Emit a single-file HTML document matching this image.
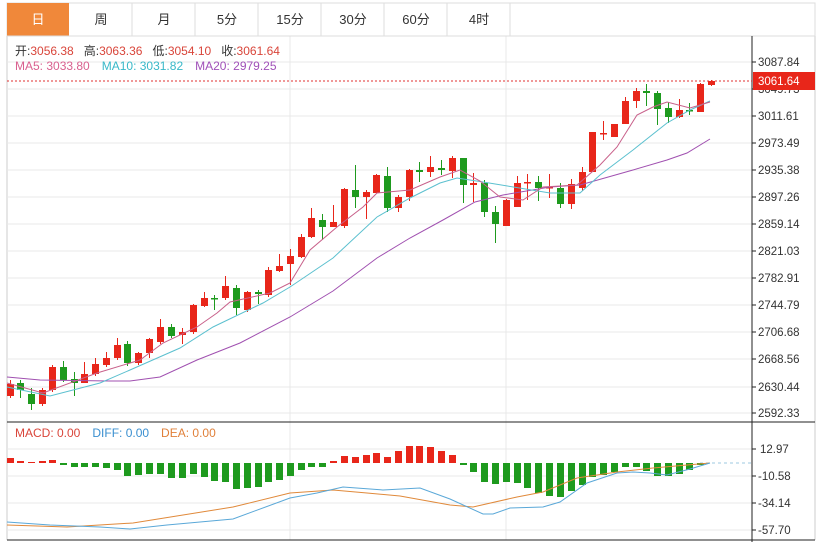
<!DOCTYPE html>
<html><head><meta charset="utf-8"><style>
html,body{margin:0;padding:0;background:#fff;width:821px;height:542px;overflow:hidden}
svg{display:block;font-family:"Liberation Sans","Noto Sans CJK SC",sans-serif}
</style></head><body>
<svg width="821" height="542" viewBox="0 0 821 542" xmlns="http://www.w3.org/2000/svg">
<rect x="7" y="3" width="808" height="33" fill="#fff" stroke="#ddd"/>
<rect x="7" y="3" width="62" height="33" fill="#f0883a"/>
<g stroke="#ddd"><line x1="132" y1="3" x2="132" y2="36"/><line x1="195" y1="3" x2="195" y2="36"/><line x1="258" y1="3" x2="258" y2="36"/><line x1="321" y1="3" x2="321" y2="36"/><line x1="384" y1="3" x2="384" y2="36"/><line x1="447" y1="3" x2="447" y2="36"/><line x1="510" y1="3" x2="510" y2="36"/></g>
<g font-size="13" text-anchor="middle" fill="#333"><text x="38" y="24" fill="#fff">日</text><text x="101" y="24">周</text><text x="164" y="24">月</text><text x="227" y="24">5分</text><text x="290" y="24">15分</text><text x="353" y="24">30分</text><text x="416" y="24">60分</text><text x="479" y="24">4时</text></g>
<g stroke="#ccc" fill="none"><line x1="7" y1="36" x2="7" y2="540"/><line x1="815" y1="36" x2="815" y2="540"/></g>
<g stroke="#e8e8e8"><line x1="7" y1="62" x2="752" y2="62"/><line x1="7" y1="89" x2="752" y2="89"/><line x1="7" y1="116" x2="752" y2="116"/><line x1="7" y1="143" x2="752" y2="143"/><line x1="7" y1="170" x2="752" y2="170"/><line x1="7" y1="197" x2="752" y2="197"/><line x1="7" y1="224" x2="752" y2="224"/><line x1="7" y1="251" x2="752" y2="251"/><line x1="7" y1="278" x2="752" y2="278"/><line x1="7" y1="305" x2="752" y2="305"/><line x1="7" y1="332" x2="752" y2="332"/><line x1="7" y1="359" x2="752" y2="359"/><line x1="7" y1="387" x2="752" y2="387"/><line x1="7" y1="413" x2="752" y2="413"/>
<line x1="7" y1="449" x2="752" y2="449"/><line x1="7" y1="476" x2="752" y2="476"/><line x1="7" y1="503" x2="752" y2="503"/><line x1="7" y1="530" x2="752" y2="530"/>
<line x1="290" y1="36" x2="290" y2="540"/><line x1="506" y1="36" x2="506" y2="540"/></g>
<line x1="7" y1="36" x2="815" y2="36" stroke="#ddd"/>
<line x1="7" y1="422" x2="815" y2="422" stroke="#222"/>
<line x1="7" y1="540" x2="815" y2="540" stroke="#222"/>
<line x1="752" y1="36" x2="752" y2="542" stroke="#222"/>
<g stroke="#222"><line x1="752" y1="62" x2="756" y2="62"/><line x1="752" y1="89" x2="756" y2="89"/><line x1="752" y1="116" x2="756" y2="116"/><line x1="752" y1="143" x2="756" y2="143"/><line x1="752" y1="170" x2="756" y2="170"/><line x1="752" y1="197" x2="756" y2="197"/><line x1="752" y1="224" x2="756" y2="224"/><line x1="752" y1="251" x2="756" y2="251"/><line x1="752" y1="278" x2="756" y2="278"/><line x1="752" y1="305" x2="756" y2="305"/><line x1="752" y1="332" x2="756" y2="332"/><line x1="752" y1="359" x2="756" y2="359"/><line x1="752" y1="387" x2="756" y2="387"/><line x1="752" y1="413" x2="756" y2="413"/><line x1="752" y1="449" x2="756" y2="449"/><line x1="752" y1="476" x2="756" y2="476"/><line x1="752" y1="503" x2="756" y2="503"/><line x1="752" y1="530" x2="756" y2="530"/></g>
<g font-size="11.5" fill="#333"><text x="758" y="66">3087.84</text><text x="758" y="93">3049.73</text><text x="758" y="120">3011.61</text><text x="758" y="147">2973.49</text><text x="758" y="174">2935.38</text><text x="758" y="201">2897.26</text><text x="758" y="228">2859.14</text><text x="758" y="255">2821.03</text><text x="758" y="282">2782.91</text><text x="758" y="309">2744.79</text><text x="758" y="336">2706.68</text><text x="758" y="363">2668.56</text><text x="758" y="391">2630.44</text><text x="758" y="417">2592.33</text>
<text x="760" y="453">12.97</text><text x="758" y="480">-10.58</text><text x="758" y="507">-34.14</text><text x="758" y="534">-57.70</text></g>
<line x1="7" y1="81" x2="752" y2="81" stroke="#e03030" stroke-dasharray="2,2"/>
<rect x="753" y="72" width="62" height="18" fill="#e8261a"/>
<text x="758" y="85" font-size="11.5" fill="#fff">3061.64</text>
<line x1="700" y1="463" x2="752" y2="463" stroke="#9cc8e0" stroke-dasharray="3,3"/>
<g font-size="12"><text x="15" y="55" fill="#333" xml:space="preserve">开:<tspan fill="#d9453a">3056.38</tspan>   高:<tspan fill="#d9453a">3063.36</tspan>   低:<tspan fill="#d9453a">3054.10</tspan>   收:<tspan fill="#d9453a">3061.64</tspan></text>
<text x="15" y="70"><tspan fill="#d9608f">MA5: 3033.80</tspan><tspan fill="#38b8c8" dx="12">MA10: 3031.82</tspan><tspan fill="#a050b8" dx="12">MA20: 2979.25</tspan></text>
<text x="15" y="437"><tspan fill="#d9453a">MACD: 0.00</tspan><tspan fill="#3a8fd0" dx="12">DIFF: 0.00</tspan><tspan fill="#e0803a" dx="12">DEA: 0.00</tspan></text></g>
<path fill="none" stroke="#e8261a" d="M10.5 380V398M42.5 388V406M52.5 365V392M84.5 362V383M95.5 358V376M106.5 352V367M117.5 338V360M138.5 352V365M149.5 338V358M160.5 319V344M182.5 328V344M193.5 304V334M204.5 292V307M225.5 276V300M247.5 291V312M268.5 267V297M279.5 254V272M290.5 249V285M301.5 234V258M311.5 208V238M333.5 205V227M344.5 188V228M366.5 190V219M376.5 174V193M398.5 195V212M409.5 169V201M430.5 156V177M452.5 156V178M473.5 173V202M506.5 199V226M517.5 176V207M527.5 174V200M549.5 174V198M571.5 179V209M582.5 167V191M592.5 132V172M603.5 121V140M614.5 124V137M625.5 97V124M636.5 88V108M679.5 99V118M700.5 83V112M711.5 80V86"/>
<path fill="none" stroke="#1e9a1e" d="M20.5 380V398M31.5 388V410M63.5 361V382M74.5 372V396M127.5 341V366M171.5 324V338M214.5 295V310M236.5 285V315M258.5 290V304M322.5 214V240M355.5 165V208M387.5 167V212M419.5 162V182M441.5 160V175M463.5 158V203M484.5 180V217M495.5 206V243M538.5 176V201M560.5 183V208M646.5 84V106M657.5 91V125M668.5 102V123M689.5 103V115"/>
<path fill="#e8261a" d="M7 384h7v12h-7zM39 390h7v14h-7zM49 367h7v23h-7zM81 374h7v9h-7zM92 364h7v10h-7zM103 358h7v7h-7zM114 345h7v13h-7zM135 353h7v10h-7zM146 339h7v14h-7zM157 327h7v15h-7zM179 332h7v3h-7zM190 305h7v27h-7zM201 298h7v8h-7zM222 286h7v12h-7zM244 292h7v18h-7zM265 270h7v25h-7zM276 266h7v5h-7zM287 256h7v8h-7zM298 237h7v20h-7zM308 218h7v19h-7zM330 222h7v5h-7zM341 189h7v37h-7zM363 192h7v5h-7zM373 175h7v18h-7zM395 197h7v11h-7zM406 170h7v27h-7zM427 167h7v5h-7zM449 158h7v13h-7zM470 183h7v2h-7zM503 200h7v26h-7zM514 183h7v24h-7zM524 182h7v1.5h-7zM546 187h7v1.5h-7zM568 184h7v20h-7zM579 172h7v16h-7zM589 132h7v40h-7zM600 133h7v1.5h-7zM611 124h7v13h-7zM622 101h7v23h-7zM633 91h7v10h-7zM676 110h7v7h-7zM697 84h7v28h-7zM708 81h7v4h-7z"/>
<path fill="#1e9a1e" d="M17 383h7v7h-7zM28 394h7v10h-7zM60 367h7v13h-7zM71 379h7v4h-7zM124 344h7v19h-7zM168 327h7v9h-7zM211 298h7v1.5h-7zM233 288h7v20h-7zM255 292h7v2h-7zM319 220h7v7h-7zM352 190h7v7h-7zM384 176h7v32h-7zM416 170h7v2h-7zM438 168h7v2h-7zM460 158h7v27h-7zM481 183h7v29h-7zM492 212h7v12h-7zM535 182h7v6h-7zM557 188h7v16h-7zM643 91h7v2h-7zM654 93h7v16h-7zM665 108h7v9h-7zM686 110h7v1.5h-7z"/>
<g fill="none" stroke-width="1">
<polyline stroke="#a050b0" points="7,377 40,380 110,381 130,381 160,377 197,360 240,343 290,317 333,291 377,258 410,238 443,220 475,202 503,195 550,187 580,185 633,170 667,160 687,153 710,139"/>
<polyline stroke="#5bc0cf" points="7,387 50,396 100,383 130,370 180,348 213,327 263,303 290,287 333,258 377,217 410,198 440,183 457,178 483,182 550,193 580,193 600,175 633,150 667,123 690,110 710,101"/>
<polyline stroke="#c8608a" points="7,383 43,393 97,373 140,360 163,343 197,327 217,313 230,302 270,293 290,283 310,250 337,227 363,207 377,193 410,190 440,177 460,170 480,181 500,197 523,200 543,187 577,185 600,165 617,147 637,115 653,107 667,102 690,108 710,102"/>
</g>
<path fill="#e8261a" d="M7 458h7v5h-7zM17 461h7v2h-7zM28 462h7v1h-7zM39 461h7v2h-7zM49 460h7v3h-7zM330 461h7v2h-7zM341 456h7v7h-7zM352 457h7v6h-7zM363 455h7v8h-7zM373 453h7v10h-7zM384 457h7v6h-7zM395 451h7v12h-7zM406 446h7v17h-7zM416 446h7v17h-7zM427 447h7v16h-7zM438 451h7v12h-7zM449 455h7v8h-7z"/>
<path fill="#1e9a1e" d="M60 463h7v2h-7zM71 463h7v4h-7zM81 463h7v4h-7zM92 463h7v4h-7zM103 463h7v5h-7zM114 463h7v7h-7zM124 463h7v13h-7zM135 463h7v12h-7zM146 463h7v11h-7zM157 463h7v11h-7zM168 463h7v15h-7zM179 463h7v15h-7zM190 463h7v11h-7zM201 463h7v14h-7zM211 463h7v18h-7zM222 463h7v19h-7zM233 463h7v26h-7zM244 463h7v25h-7zM255 463h7v24h-7zM265 463h7v19h-7zM276 463h7v17h-7zM287 463h7v13h-7zM298 463h7v7h-7zM308 463h7v4h-7zM319 463h7v4h-7zM460 463h7v2h-7zM470 463h7v9h-7zM481 463h7v19h-7zM492 463h7v21h-7zM503 463h7v19h-7zM514 463h7v20h-7zM524 463h7v25h-7zM535 463h7v30h-7zM546 463h7v33h-7zM557 463h7v34h-7zM568 463h7v28h-7zM579 463h7v22h-7zM589 463h7v14h-7zM600 463h7v12h-7zM611 463h7v9h-7zM622 463h7v4h-7zM633 463h7v4h-7zM643 463h7v8h-7zM654 463h7v13h-7zM665 463h7v13h-7zM676 463h7v11h-7zM686 463h7v7h-7zM697 463h7v2h-7z"/>
<g fill="none">
<polyline stroke="#e0893a" points="7,525 67,527 133,523 233,507 290,493 333,490 367,493 400,496 450,505 473,507 517,497 543,492 577,478 617,472 653,468 710,463"/>
<polyline stroke="#5aa8d8" points="7,522 50,525 100,527 130,529 167,525 233,519 290,498 317,493 343,487 383,490 420,488 450,499 483,514 493,514 510,508 543,507 560,502 587,483 617,473 633,472 650,473 667,475 690,469 710,463"/>
</g>
</svg>
</body></html>
